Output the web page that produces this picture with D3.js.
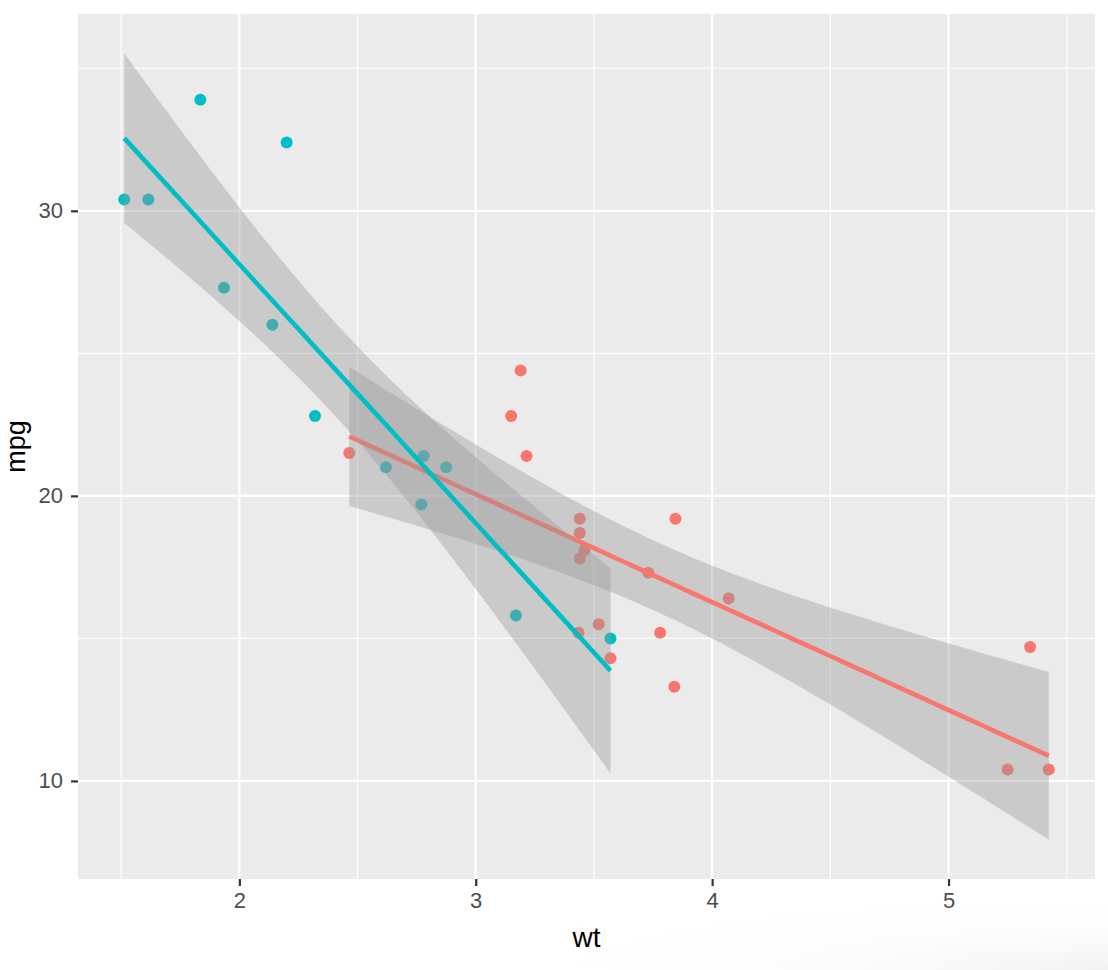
<!DOCTYPE html>
<html>
<head>
<meta charset="utf-8">
<script src="https://cdn.jsdelivr.net/npm/d3@7"></script>
<style>
  html, body { margin: 0; padding: 0; background: #ffffff; }
  svg { display: block; }
</style>
</head>
<body>
<svg id="chart" width="1108" height="970"></svg>
<script>
// mtcars: weight (1000 lbs), miles per gallon, transmission (0 = automatic, 1 = manual)
const wt  = [2.620, 2.875, 2.320, 3.215, 3.440, 3.460, 3.570, 3.190, 3.150, 3.440, 3.440,
             4.070, 3.730, 3.780, 5.250, 5.424, 5.345, 2.200, 1.615, 1.835, 2.465, 3.520,
             3.435, 3.840, 3.845, 1.935, 2.140, 1.513, 3.170, 2.770, 3.570, 2.780];
const mpg = [21.0, 21.0, 22.8, 21.4, 18.7, 18.1, 14.3, 24.4, 22.8, 19.2, 17.8,
             16.4, 17.3, 15.2, 10.4, 10.4, 14.7, 32.4, 30.4, 33.9, 21.5, 15.5,
             15.2, 13.3, 19.2, 27.3, 26.0, 30.4, 15.8, 19.7, 15.0, 21.4];
const am  = [1, 1, 1, 0, 0, 0, 0, 0, 0, 0, 0,
             0, 0, 0, 0, 0, 0, 1, 1, 1, 0, 0,
             0, 0, 0, 1, 1, 1, 1, 1, 1, 1];
const groups = [0, 1];
const groupColors = ["#F8766D", "#00BFC4"];
const xTicks = [2, 3, 4, 5];
const xMinor = [1.5, 2.5, 3.5, 4.5, 5.5];
const yTicks = [10, 20, 30];
const yMinor = [15, 25, 35];
// 97.5% Student t quantiles for df = n - 2 (n = 19 automatic, 13 manual)
const tQuant = {17: 2.109816, 11: 2.200985};

const W = 1108, H = 970;
const panel = {left: 78, right: 1095, top: 14, bottom: 879};

const pts = wt.map((w, i) => ({x: w, y: mpg[i], g: am[i]}));

// linear model smooth per group (like geom_smooth(method = "lm"))
function fitLm(data) {
  const n = data.length;
  const xm = d3.mean(data, d => d.x), ym = d3.mean(data, d => d.y);
  let sxx = 0, sxy = 0;
  data.forEach(d => { sxx += (d.x - xm) ** 2; sxy += (d.x - xm) * (d.y - ym); });
  const b = sxy / sxx, a = ym - b * xm;
  let sse = 0;
  data.forEach(d => { sse += (d.y - a - b * d.x) ** 2; });
  const sigma = Math.sqrt(sse / (n - 2));
  const t = tQuant[n - 2];
  const [x0, x1] = d3.extent(data, d => d.x);
  const out = [];
  for (let k = 0; k < 80; k++) {
    const x = x0 + (x1 - x0) * k / 79;
    const yhat = a + b * x;
    const se = sigma * Math.sqrt(1 / n + (x - xm) ** 2 / sxx);
    out.push({x, y: yhat, lo: yhat - t * se, hi: yhat + t * se});
  }
  return out;
}
const fits = groups.map(g => ({g, fit: fitLm(pts.filter(p => p.g === g))}));

const xExt = d3.extent(pts, d => d.x);
const allY = pts.map(d => d.y).concat(...fits.map(f => f.fit.flatMap(r => [r.lo, r.hi])));
const yExt = d3.extent(allY);
const xPad = (xExt[1] - xExt[0]) * 0.05, yPad = (yExt[1] - yExt[0]) * 0.05;

const x = d3.scaleLinear().domain([xExt[0] - xPad, xExt[1] + xPad]).range([panel.left, panel.right]);
const y = d3.scaleLinear().domain([yExt[0] - yPad, yExt[1] + yPad]).range([panel.bottom, panel.top]);

const svg = d3.select("#chart");
const defs = svg.append("defs");
const grad = defs.append("radialGradient").attr("id", "shade")
  .attr("cx", "100%").attr("cy", "100%").attr("r", "100%");
grad.append("stop").attr("offset", "0%").attr("stop-color", "#f2f2f2").attr("stop-opacity", 1);
grad.append("stop").attr("offset", "100%").attr("stop-color", "#ffffff").attr("stop-opacity", 0);
const clip = defs.append("clipPath").attr("id", "pclip");
clip.append("rect").attr("x", panel.left).attr("y", panel.top)
  .attr("width", panel.right - panel.left).attr("height", panel.bottom - panel.top);

svg.append("rect").attr("width", W).attr("height", H).attr("fill", "#ffffff");
svg.append("rect").attr("x", 560).attr("y", 900).attr("width", 548).attr("height", 70).attr("fill", "url(#shade)");

svg.append("rect").attr("x", panel.left).attr("y", panel.top)
  .attr("width", panel.right - panel.left).attr("height", panel.bottom - panel.top)
  .attr("fill", "#EBEBEB");

const grid = svg.append("g");
grid.selectAll(".xminor").data(xMinor.filter(v => x(v) >= panel.left && x(v) <= panel.right)).join("line")
  .attr("x1", d => x(d)).attr("x2", d => x(d)).attr("y1", panel.top).attr("y2", panel.bottom)
  .attr("stroke", "#ffffff").attr("stroke-width", 1.1);
grid.selectAll(".yminor").data(yMinor.filter(v => y(v) >= panel.top && y(v) <= panel.bottom)).join("line")
  .attr("y1", d => y(d)).attr("y2", d => y(d)).attr("x1", panel.left).attr("x2", panel.right)
  .attr("stroke", "#ffffff").attr("stroke-width", 1.1);
grid.selectAll(".xmajor").data(xTicks).join("line")
  .attr("x1", d => x(d)).attr("x2", d => x(d)).attr("y1", panel.top).attr("y2", panel.bottom)
  .attr("stroke", "#ffffff").attr("stroke-width", 2.2);
grid.selectAll(".ymajor").data(yTicks).join("line")
  .attr("y1", d => y(d)).attr("y2", d => y(d)).attr("x1", panel.left).attr("x2", panel.right)
  .attr("stroke", "#ffffff").attr("stroke-width", 2.2);

const plot = svg.append("g").attr("clip-path", "url(#pclip)");
plot.selectAll("circle").data(pts).join("circle")
  .attr("cx", d => x(d.x)).attr("cy", d => y(d.y)).attr("r", 6)
  .attr("fill", d => groupColors[d.g]);

const area = d3.area().x(d => x(d.x)).y0(d => y(d.lo)).y1(d => y(d.hi));
const line = d3.line().x(d => x(d.x)).y(d => y(d.y));
fits.forEach(f => {
  plot.append("path").attr("d", area(f.fit)).attr("fill", "#999999").attr("fill-opacity", 0.4);
  plot.append("path").attr("d", line(f.fit)).attr("fill", "none")
    .attr("stroke", groupColors[f.g]).attr("stroke-width", 4.6);
});

// axes
const font = "'Liberation Sans', Arial, Helvetica, sans-serif";
const xAxis = d3.axisBottom(x).tickValues(xTicks).tickSize(7).tickPadding(6).tickFormat(d3.format("d"));
const gx = svg.append("g").attr("transform", `translate(0,${panel.bottom})`).call(xAxis);
const yAxis = d3.axisLeft(y).tickValues(yTicks).tickSize(7).tickPadding(8).tickFormat(d3.format("d"));
const gy = svg.append("g").attr("transform", `translate(${panel.left},0)`).call(yAxis);
[gx, gy].forEach(g => {
  g.select(".domain").remove();
  g.selectAll(".tick line").attr("stroke", "#333333").attr("stroke-width", 2.2);
  g.selectAll(".tick text").attr("fill", "#4D4D4D").attr("font-size", 22).attr("font-family", font);
});

svg.append("text").attr("x", (panel.left + panel.right) / 2).attr("y", 947)
  .attr("text-anchor", "middle").attr("font-family", font).attr("font-size", 28)
  .attr("fill", "#000000").text("wt");
svg.append("text").attr("transform", `translate(25,${(panel.top + panel.bottom) / 2}) rotate(-90)`)
  .attr("text-anchor", "middle").attr("font-family", font).attr("font-size", 27)
  .attr("fill", "#000000").text("mpg");
</script>
</body>
</html>
